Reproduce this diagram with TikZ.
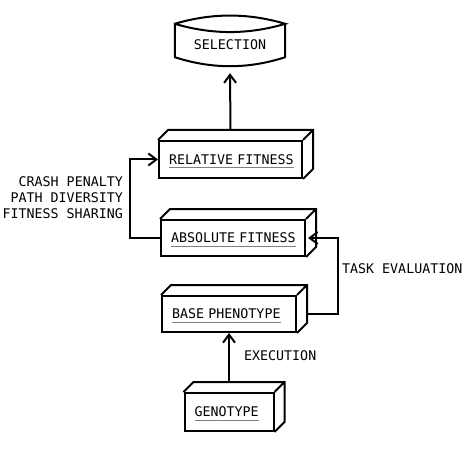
\documentclass[tikz,border=0pt]{standalone}
\usepackage{fontspec}
\setmainfont{DejaVu Sans Mono}
\usetikzlibrary{arrows.meta}
\newcommand{\ultext}[1]{\sbox0{#1}\rlap{\smash{\color{gray}\rule[-4pt]{\wd0}{1.2pt}}}\usebox0}
\begin{document}
\begin{tikzpicture}[x=1pt,y=-1pt,
  line/.style={line width=2pt,line join=miter},
  txt/.style={font=\fontsize{13.3}{16}\selectfont},
  boxnode/.style={txt,draw,line width=2pt,inner xsep=10pt,inner ysep=0pt,align=left},
  conn/.style={line width=2pt,-{Straight Barb[length=8pt,width=12pt,line width=2pt]}},
  lbl/.style={txt,inner sep=0pt}]
\useasboundingbox (0,0) rectangle (472,452);
% selection
\node[txt,minimum width=110pt,minimum height=50pt,inner sep=0pt] (sel) at (230,45) {SELECTION};
\draw[line] ([yshift=-4pt]sel.north west) .. controls +(37,-11) and +(-37,-11) .. ([yshift=-4pt]sel.north east)
  .. controls +(-37,11) and +(37,11) .. ([yshift=-4pt]sel.north west)
  -- ([yshift=13pt]sel.south west) .. controls +(37,12) and +(-37,12) .. ([yshift=13pt]sel.south east)
  -- ([yshift=-4pt]sel.north east);
% boxes
\node[boxnode,text width=123pt,minimum height=37pt] (rel) at (230.5,159.5) {\ultext{RELATIVE FITNESS}};
\node[boxnode,text width=124pt,minimum height=36pt] (abs) at (233,238) {\ultext{ABSOLUTE FITNESS}};
\node[boxnode,text width=114pt,minimum height=36pt] (base) at (229,314) {\ultext{BASE PHENOTYPE}};
\node[boxnode,text width=69pt,minimum height=38pt] (geno) at (229,412) {\ultext{GENOTYPE}};
\foreach \n in {rel,abs,base,geno}
  \draw[line] (\n.north west) -- ++(10,-10) -| ([shift={(10,-10)}]\n.south east) -- (\n.south east)
              (\n.north east) -- ++(10,-10);
% connectors
\draw[conn] ([yshift=10pt]rel.north) -- ([yshift=-3pt]sel.south);
\draw[conn] ([yshift=10pt]geno.north) -- (base.south);
\draw[conn] ([xshift=10pt]base.east) -- ++(31,0) |- ([xshift=2pt]abs.east);
\draw[conn] (abs.west) -- ++(-30,0) |- (rel.west);
% labels
\node[lbl,anchor=east,align=right] (l1) at (123,198) {CRASH PENALTY\\PATH DIVERSITY\\FITNESS SHARING};
\node[lbl,anchor=west] (l2) at (342,269) {TASK EVALUATION};
\node[lbl,anchor=west] (l3) at (244,356) {EXECUTION};
\end{tikzpicture}
\end{document}
